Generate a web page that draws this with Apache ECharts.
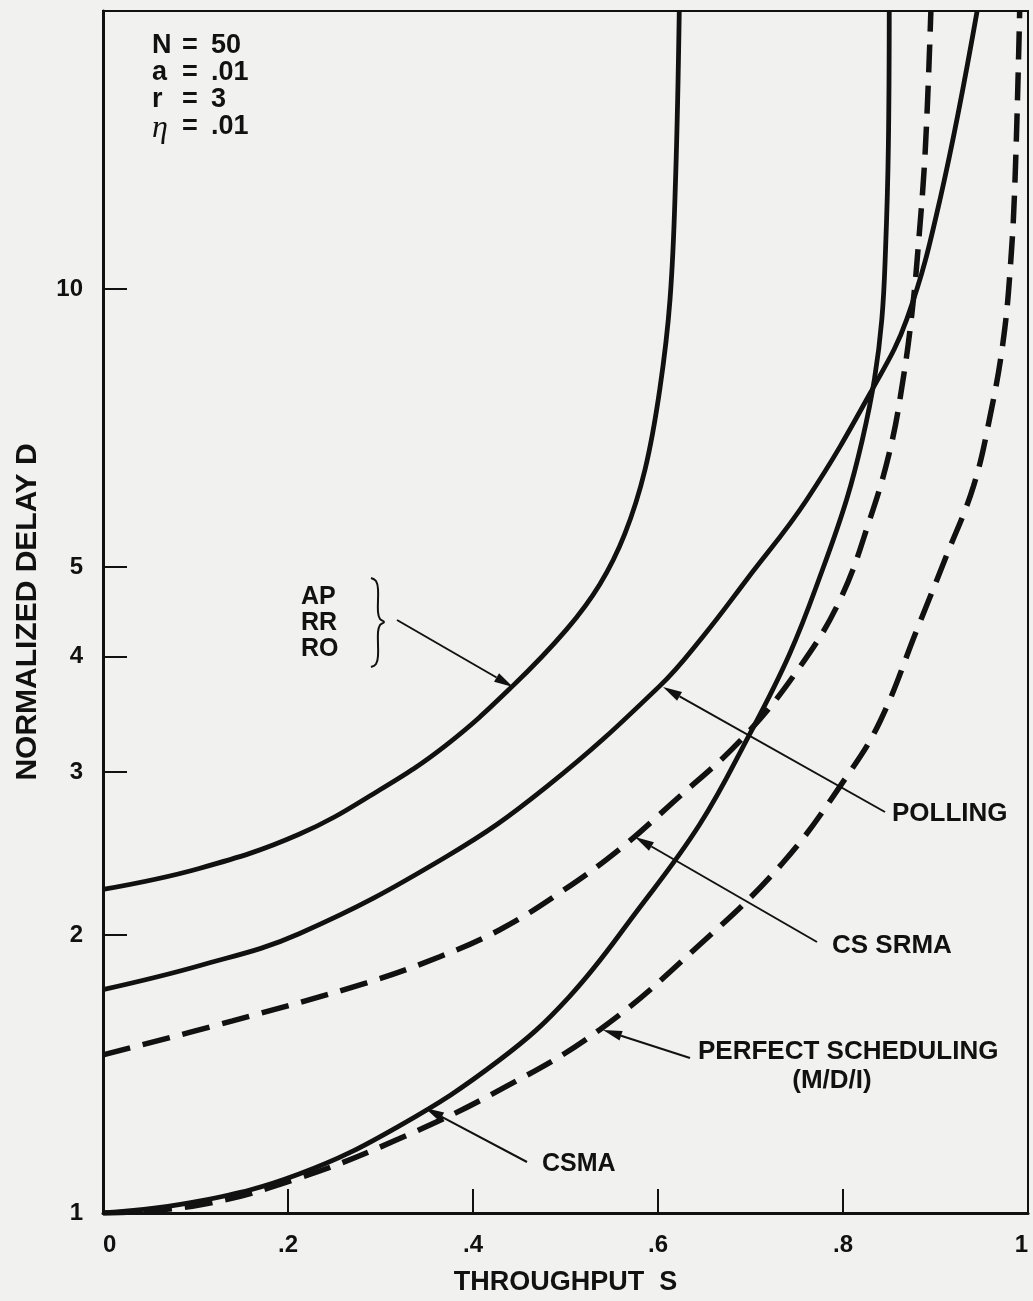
<!DOCTYPE html>
<html>
<head>
<meta charset="utf-8">
<script src="https://cdn.jsdelivr.net/npm/echarts@6/dist/echarts.min.js"></script>
<style>
  html, body { margin: 0; padding: 0; background: #f1f1ef; }
  #chart { width: 1033px; height: 1301px; }
</style>
</head>
<body>
<div id="chart"></div>
<script>
// Throughput S vs. normalized delay D (log scale), N = 50, a = .01, r = 3, eta = .01

// AP / RR / RO
const sAP = [0, 0.104, 0.212, 0.299, 0.371, 0.443, 0.501, 0.537, 0.564, 0.586, 0.602, 0.613, 0.619, 0.623];
const dAP = [2.24, 2.36, 2.57, 2.87, 3.21, 3.72, 4.28, 4.79, 5.43, 6.38, 7.80, 9.75, 13.16, 20];

// Polling
const sPoll = [0, 0.104, 0.212, 0.371, 0.479, 0.602, 0.648, 0.696, 0.761, 0.832, 0.869, 0.905, 0.945];
const dPoll = [1.745, 1.852, 2.006, 2.43, 2.89, 3.72, 4.20, 4.85, 5.92, 7.80, 9.28, 12.52, 20];

// CS SRMA
const sSrma = [0, 0.140, 0.285, 0.364, 0.429, 0.494, 0.558, 0.616, 0.692, 0.753, 0.797, 0.829, 0.851, 0.865, 0.875, 0.882, 0.889, 0.895];
const dSrma = [1.483, 1.614, 1.775, 1.894, 2.026, 2.222, 2.474, 2.782, 3.27, 3.895, 4.615, 5.633, 6.708, 7.99, 9.51, 11.33, 14.18, 20];

// CSMA
const sCsma = [0, 0.104, 0.212, 0.320, 0.429, 0.504, 0.580, 0.645, 0.696, 0.742, 0.778, 0.804, 0.821, 0.834, 0.842, 0.846, 0.849, 0.850];
const dCsma = [1.0, 1.030, 1.102, 1.242, 1.465, 1.714, 2.14, 2.633, 3.254, 4.023, 4.975, 5.923, 6.877, 7.99, 9.28, 11.05, 14.18, 20];

// Perfect scheduling (M/D/1)
const sPerf = [0, 0.104, 0.212, 0.320, 0.429, 0.537, 0.645, 0.735, 0.804, 0.840, 0.880, 0.912, 0.941, 0.959, 0.973, 0.981, 0.986, 0.991];
const dPerf = [1.0, 1.020, 1.091, 1.203, 1.359, 1.579, 1.951, 2.394, 2.968, 3.404, 4.281, 5.15, 6.117, 7.286, 8.761, 10.59, 13.16, 20];

// Axis ticks
const xTickValues = [0, 0.2, 0.4, 0.6, 0.8, 1];
const xTickLabels = ['0', '.2', '.4', '.6', '.8', '1'];
const yTickValues = [1, 2, 3, 4, 5, 10];
const yTickLabels = ['1', '2', '3', '4', '5', '10'];

// Parameter block
const paramNames = ['N', 'a', 'r', 'η'];
const paramValues = ['50', '.01', '3', '.01'];

const INK = '#111';
const FONT = '"Liberation Sans", Arial, sans-serif';

function pairs(xs, ys) { return xs.map((x, i) => [x, ys[i]]); }

function curve(name, xs, ys, dashed) {
  return {
    name, type: 'line', data: pairs(xs, ys),
    symbol: 'none', smooth: 0.4, clip: true, silent: true,
    lineStyle: { color: INK, width: dashed ? 5.5 : 4.8, type: dashed ? [28, 13] : 'solid', cap: 'butt' },
    z: 3
  };
}

// pointer line with a filled head at (x2, y2)
function arrow(x1, y1, x2, y2) {
  const dx = x2 - x1, dy = y2 - y1, len = Math.hypot(dx, dy);
  const ux = dx / len, uy = dy / len, L = 19, W = 5;
  const bx = x2 - ux * L, by = y2 - uy * L;
  return [
    { type: 'line', shape: { x1, y1, x2: bx, y2: by }, style: { stroke: INK, lineWidth: 2 }, z: 10 },
    { type: 'polygon', shape: { points: [[x2, y2], [bx - uy * W, by + ux * W], [bx + uy * W, by - ux * W]] },
      style: { fill: INK }, z: 10 }
  ];
}

function label(text, x, y, size, align) {
  return { type: 'text', z: 10, style: { text, x, y, fill: INK, font: 'bold ' + size + 'px ' + FONT,
    textAlign: align || 'left', textVerticalAlign: 'middle' } };
}

const graphics = [];
// parameter block
const rowY = [46, 73, 100, 127];
paramNames.forEach((n, i) => {
  graphics.push(n === 'η'
    ? { type: 'text', z: 10, style: { text: n, x: 152, y: rowY[i] + 2, fill: INK, font: 'italic 32px "Liberation Serif", serif', textVerticalAlign: 'middle' } }
    : label(n, 152, rowY[i], 27));
  graphics.push(label('=', 190, rowY[i], 27, 'center'));
  graphics.push(label(paramValues[i], 211, rowY[i], 27));
});
// AP / RR / RO with brace
graphics.push(label('AP', 301, 597, 25), label('RR', 301, 623, 25), label('RO', 301, 649, 25));
graphics.push({ type: 'polyline', z: 10, shape: { smooth: 0.4, points: [
  [371, 578], [376, 581], [378, 589], [378, 612], [380, 619], [384, 622], [380, 625], [378, 632], [378, 656], [376, 664], [371, 667]
] }, style: { stroke: INK, lineWidth: 2, fill: null } });
graphics.push(...arrow(397, 620, 513, 687));
// Polling
graphics.push(label('POLLING', 892, 814, 26));
graphics.push(...arrow(885, 812, 663, 687));
// CS SRMA
graphics.push(label('CS SRMA', 832, 946, 26));
graphics.push(...arrow(817, 942, 635, 837));
// Perfect scheduling
graphics.push(label('PERFECT SCHEDULING', 698, 1052, 26));
graphics.push(label('(M/D/I)', 832, 1081, 26, 'center'));
graphics.push(...arrow(690, 1058, 603, 1030));
// CSMA
graphics.push(label('CSMA', 542, 1164, 25));
graphics.push(...arrow(527, 1162, 425, 1108));

const chart = echarts.init(document.getElementById('chart'), null, { renderer: 'canvas' });
chart.setOption({
  backgroundColor: '#f1f1ef',
  animation: false,
  grid: { left: 103, right: 5, top: 11, bottom: 88, show: true, borderColor: INK, borderWidth: 2, backgroundColor: 'transparent' },
  xAxis: {
    type: 'value', min: 0, max: 1,
    name: 'THROUGHPUT  S', nameLocation: 'middle', nameGap: 56,
    nameTextStyle: { color: INK, fontFamily: FONT, fontWeight: 'bold', fontSize: 27 },
    axisLine: { onZero: false, lineStyle: { color: INK, width: 3 } },
    axisTick: { inside: true, length: 24, customValues: [0.2, 0.4, 0.6, 0.8], lineStyle: { color: INK, width: 2 } },
    axisLabel: {
      customValues: xTickValues, margin: 20, color: INK, fontFamily: FONT, fontWeight: 'bold', fontSize: 24,
      alignMinLabel: 'left', alignMaxLabel: 'right',
      formatter: v => xTickLabels[xTickValues.indexOf(v)]
    },
    splitLine: { show: false }
  },
  yAxis: {
    type: 'log', logBase: 10, min: 1, max: 20,
    name: 'NORMALIZED DELAY D', nameLocation: 'middle', nameGap: 60,
    nameTextStyle: { color: INK, fontFamily: FONT, fontWeight: 'bold', fontSize: 30 },
    axisLine: { lineStyle: { color: INK, width: 3 } },
    axisTick: { inside: true, length: 24, customValues: [2, 3, 4, 5, 10], lineStyle: { color: INK, width: 2 } },
    axisLabel: {
      customValues: yTickValues, margin: 20, color: INK, fontFamily: FONT, fontWeight: 'bold', fontSize: 24,
      formatter: v => yTickLabels[yTickValues.indexOf(v)]
    },
    splitLine: { show: false },
    minorTick: { show: false }
  },
  series: [
    curve('AP/RR/RO', sAP, dAP, false),
    curve('POLLING', sPoll, dPoll, false),
    curve('CS SRMA', sSrma, dSrma, true),
    curve('CSMA', sCsma, dCsma, false),
    curve('PERFECT SCHEDULING', sPerf, dPerf, true)
  ],
  graphic: graphics
});
</script>
</body>
</html>
